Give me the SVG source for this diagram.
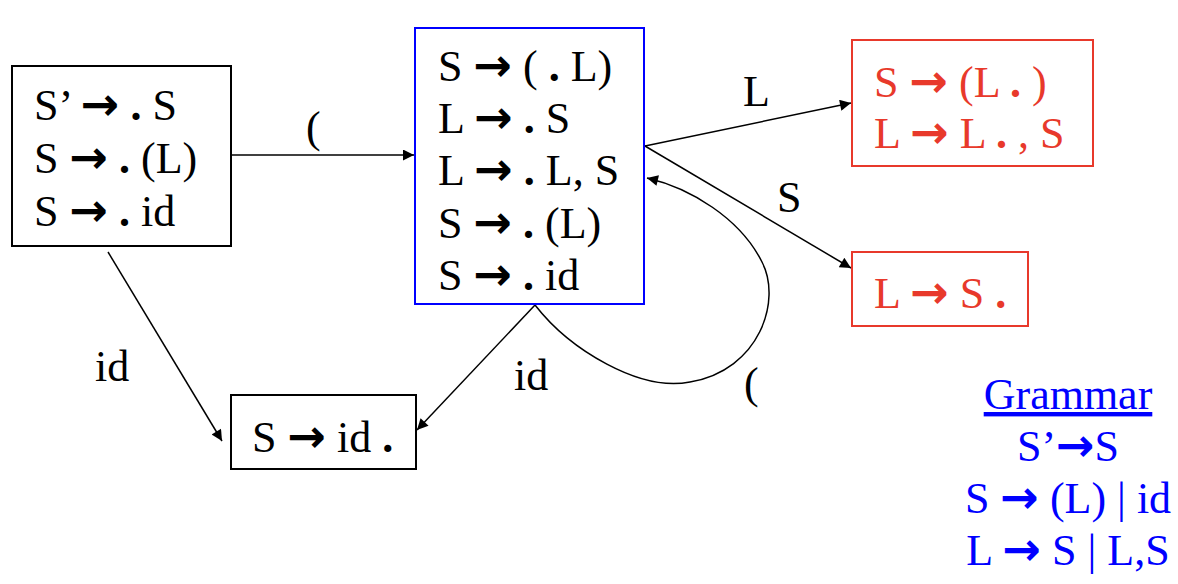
<svg xmlns="http://www.w3.org/2000/svg" width="1178" height="584" viewBox="0 0 1178 584">
<style>
  .t { font-family: "Liberation Serif", "Times New Roman", serif; font-size: 44px; fill: #000; }
  .r { fill: #e8392b; }
  .b { fill: #0000ff; }
  .ar { font-family: "DejaVu Sans", sans-serif; font-weight: bold; font-size: 46px; }
  .dot { font-weight: bold; }
  .box { fill: #fff; stroke: #000; stroke-width: 2; }
  .edge { fill: none; stroke: #000; stroke-width: 1.5; }
</style>
<defs>
  <marker id="ahl" viewBox="0 0 10 10" refX="10" refY="5" markerWidth="13" markerHeight="11" markerUnits="userSpaceOnUse" orient="auto">
    <path d="M0,0 L10,5 L0,10 z" fill="#000"/>
  </marker>
</defs>
<rect width="1178" height="584" fill="#fff"/>

<g id="connectors">
  <line class="edge" x1="231" y1="155" x2="414" y2="155" marker-end="url(#ahl)"/>
  <line class="edge" x1="645" y1="146" x2="851" y2="103" marker-end="url(#ahl)"/>
  <line class="edge" x1="645" y1="146" x2="851" y2="268" marker-end="url(#ahl)"/>
  <line class="edge" x1="108" y1="252" x2="222" y2="441" marker-end="url(#ahl)"/>
  <line class="edge" x1="535" y1="305" x2="417" y2="430" marker-end="url(#ahl)"/>
  <path class="edge" d="M535,305 C570,350 640,392 690,382 C760,370 782,300 762,262 C740,218 690,188 647,178" marker-end="url(#ahl)"/>
  <text class="t" x="306" y="142">(</text>
  <text class="t" x="743" y="106">L</text>
  <text class="t" x="777" y="212">S</text>
  <text class="t" x="95" y="381">id</text>
  <text class="t" x="514" y="390">id</text>
  <text class="t" x="744" y="398">(</text>
</g>

<g id="node-i0">
  <rect class="box" x="12" y="66" width="219" height="180"/>
  <text class="t" x="34" y="120">S’ <tspan class="ar">→</tspan> <tspan class="dot">.</tspan> S</text>
  <text class="t" x="34" y="173">S <tspan class="ar">→</tspan> <tspan class="dot">.</tspan> (L)</text>
  <text class="t" x="34" y="226">S <tspan class="ar">→</tspan> <tspan class="dot">.</tspan> id</text>
</g>

<g id="node-i2">
  <rect x="415" y="28" width="229" height="276" fill="#fff" stroke="#0000ff" stroke-width="2"/>
  <text class="t" x="438" y="81">S <tspan class="ar">→</tspan> ( <tspan class="dot">.</tspan> L)</text>
  <text class="t" x="438" y="133">L <tspan class="ar">→</tspan> <tspan class="dot">.</tspan> S</text>
  <text class="t" x="438" y="185">L <tspan class="ar">→</tspan> <tspan class="dot">.</tspan> L, S</text>
  <text class="t" x="438" y="238">S <tspan class="ar">→</tspan> <tspan class="dot">.</tspan> (L)</text>
  <text class="t" x="438" y="290">S <tspan class="ar">→</tspan> <tspan class="dot">.</tspan> id</text>
</g>

<g id="node-i3">
  <rect x="852" y="40" width="241" height="126" fill="#fff" stroke="#e8392b" stroke-width="2"/>
  <text class="t r" x="874" y="97">S <tspan class="ar">→</tspan> (L <tspan class="dot">.</tspan> )</text>
  <text class="t r" x="874" y="148">L <tspan class="ar">→</tspan> L <tspan class="dot">.</tspan> , S</text>
</g>

<g id="node-i4">
  <rect x="852" y="252" width="176" height="74" fill="#fff" stroke="#e8392b" stroke-width="2"/>
  <text class="t r" x="874" y="308">L <tspan class="ar">→</tspan> S <tspan class="dot">.</tspan></text>
</g>

<g id="node-i1">
  <rect class="box" x="231" y="395" width="185" height="74"/>
  <text class="t" x="252" y="452">S <tspan class="ar">→</tspan> id <tspan class="dot">.</tspan></text>
</g>

<g id="grammar">
  <text class="t b" x="1068" y="409" text-anchor="middle" text-decoration="underline">Grammar</text>
  <text class="t b" x="1068" y="461" text-anchor="middle">S’<tspan class="ar">→</tspan>S</text>
  <text class="t b" x="1068" y="513" text-anchor="middle">S <tspan class="ar">→</tspan> (L) | id</text>
  <text class="t b" x="1068" y="565" text-anchor="middle">L <tspan class="ar">→</tspan> S | L,S</text>
</g>
</svg>
